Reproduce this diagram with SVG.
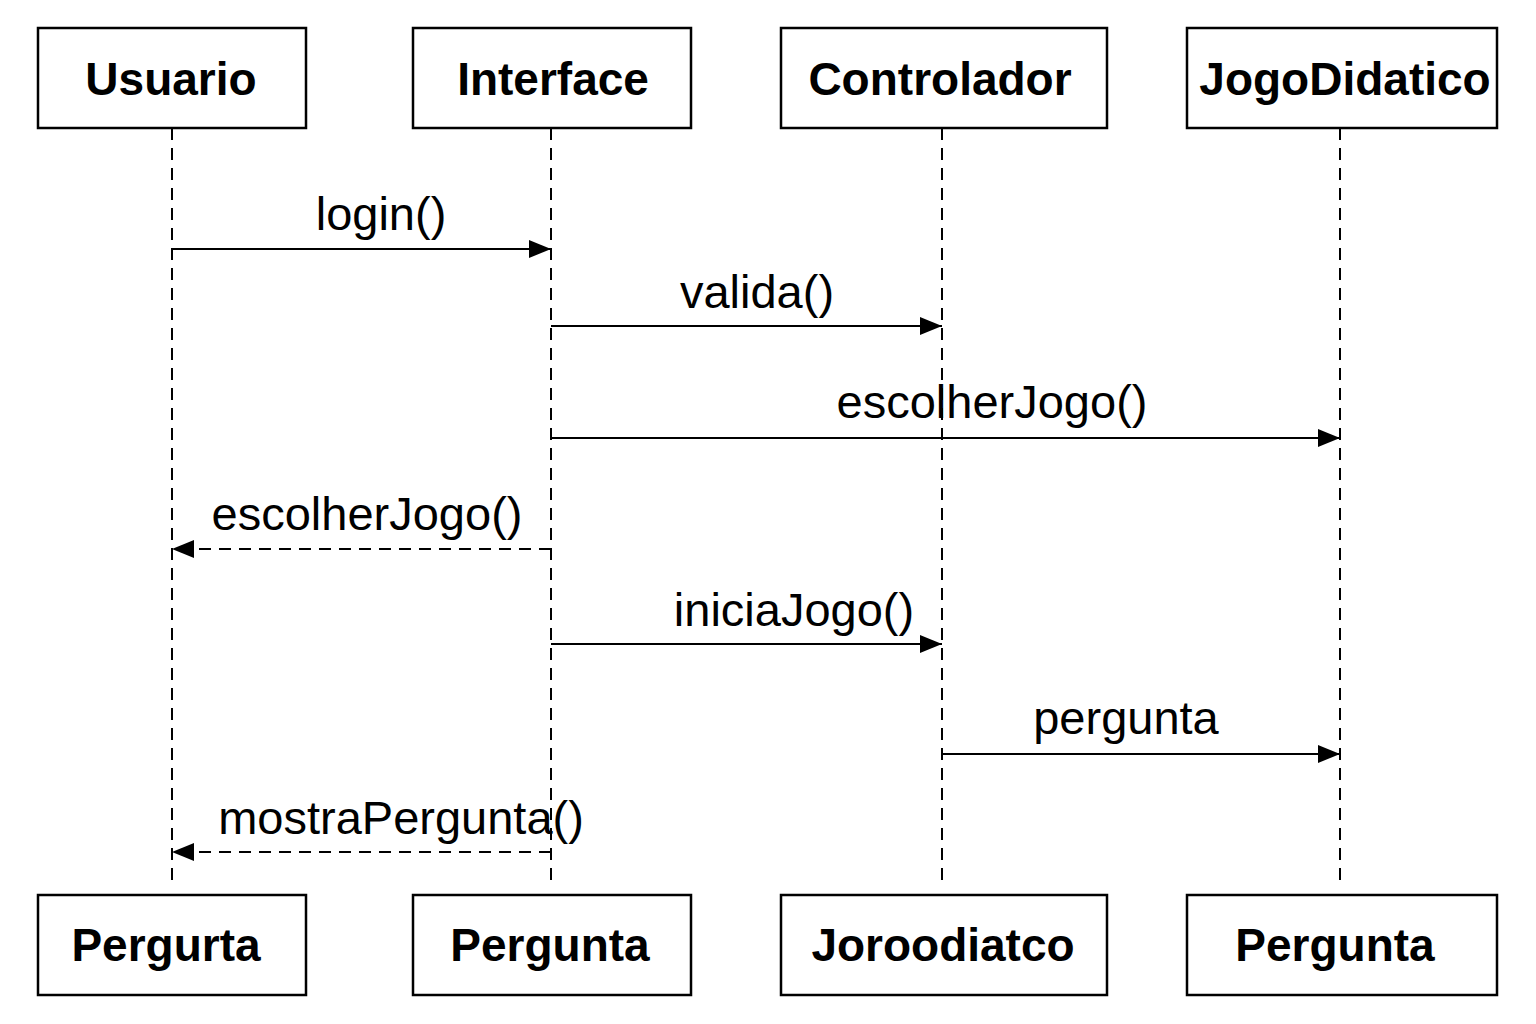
<svg xmlns="http://www.w3.org/2000/svg" width="1536" height="1024" viewBox="0 0 1536 1024">
<style>
.box{fill:#fff;stroke:#000;stroke-width:2.5}
.title{font-family:"Liberation Sans",Arial,sans-serif;font-weight:bold;font-size:46px;text-anchor:middle;fill:#000}
.life{stroke:#000;stroke-width:2;stroke-dasharray:12 8;fill:none}
.msg{stroke:#000;stroke-width:2;fill:none}
.ret{stroke:#000;stroke-width:2;stroke-dasharray:12 8;fill:none}
.lbl{font-family:"Liberation Sans",Arial,sans-serif;font-size:47px;fill:#000;text-anchor:middle}
</style>
<defs>
<marker id="ah" markerWidth="22" markerHeight="18" refX="22" refY="9" orient="auto" markerUnits="userSpaceOnUse">
<path d="M0,0 L22,9 L0,18 Z" fill="#000"/>
</marker>
</defs>
<rect width="1536" height="1024" fill="#fff"/>
<g id="lifelines">
<line class="life" x1="172" y1="128" x2="172" y2="885"/>
<line class="life" x1="551" y1="128" x2="551" y2="885"/>
<line class="life" x1="942" y1="128" x2="942" y2="885"/>
<line class="life" x1="1340" y1="128" x2="1340" y2="885"/>
</g>
<g id="n-usuario"><rect class="box" x="38" y="28" width="268" height="100"/><text class="title" x="171" y="95">Usuario</text></g>
<g id="n-interface"><rect class="box" x="413" y="28" width="278" height="100"/><text class="title" x="553" y="95">Interface</text></g>
<g id="n-controlador"><rect class="box" x="781" y="28" width="326" height="100"/><text class="title" x="940" y="95">Controlador</text></g>
<g id="n-jogo"><rect class="box" x="1187" y="28" width="310" height="100"/><text class="title" x="1345" y="95">JogoDidatico</text></g>
<g id="n-b1"><rect class="box" x="38" y="895" width="268" height="100"/><text class="title" x="166" y="961">Pergurta</text></g>
<g id="n-b2"><rect class="box" x="413" y="895" width="278" height="100"/><text class="title" x="550" y="961">Pergunta</text></g>
<g id="n-b3"><rect class="box" x="781" y="895" width="326" height="100"/><text class="title" x="943" y="961">Joroodiatco</text></g>
<g id="n-b4"><rect class="box" x="1187" y="895" width="310" height="100"/><text class="title" x="1335" y="961">Pergunta</text></g>
<g id="connectors">
<line class="msg" x1="172" y1="249" x2="551" y2="249" marker-end="url(#ah)"/>
<text class="lbl" x="381" y="230">login()</text>
<line class="msg" x1="551" y1="326" x2="942" y2="326" marker-end="url(#ah)"/>
<text class="lbl" x="757" y="308">valida()</text>
<line class="msg" x1="551" y1="438" x2="1340" y2="438" marker-end="url(#ah)"/>
<text class="lbl" x="992" y="418">escolherJogo()</text>
<line class="ret" x1="551" y1="549" x2="172" y2="549" marker-end="url(#ah)"/>
<text class="lbl" x="367" y="530">escolherJogo()</text>
<line class="msg" x1="551" y1="644" x2="942" y2="644" marker-end="url(#ah)"/>
<text class="lbl" x="794" y="626">iniciaJogo()</text>
<line class="msg" x1="942" y1="754" x2="1340" y2="754" marker-end="url(#ah)"/>
<text class="lbl" x="1126" y="734">pergunta</text>
<line class="ret" x1="551" y1="852" x2="172" y2="852" marker-end="url(#ah)"/>
<text class="lbl" x="401" y="834">mostraPergunta()</text>
</g>
</svg>
